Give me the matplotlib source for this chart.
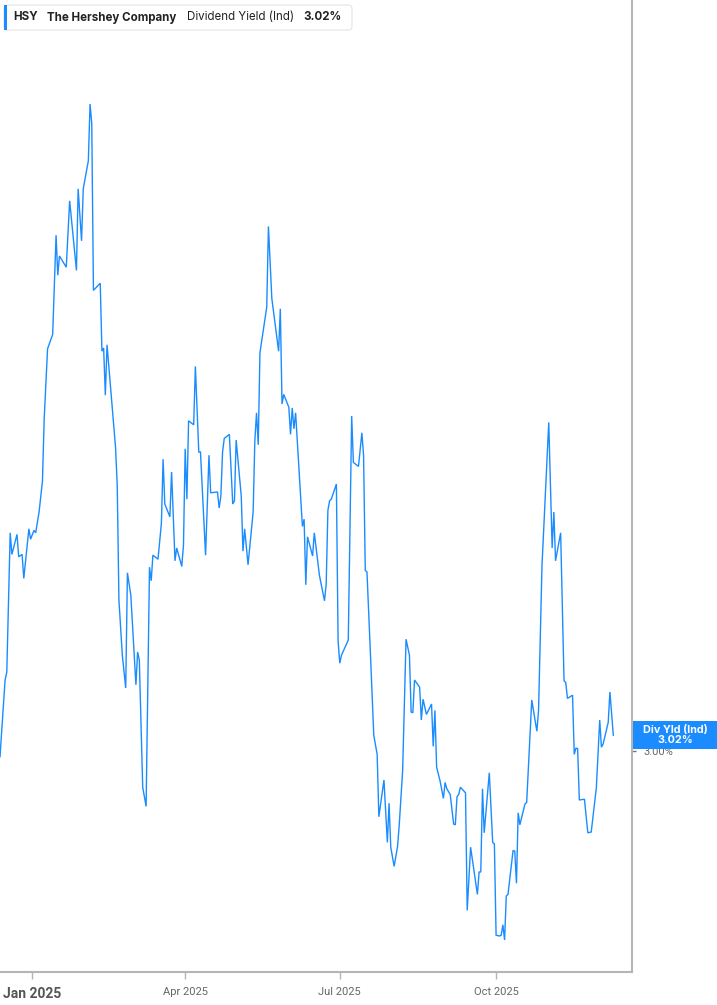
"""
HSY dividend yield (indicated), Dec 2024 - Dec 2025
"""

import numpy as np
import matplotlib
matplotlib.use("Agg")
import matplotlib.pyplot as plt
from matplotlib.patches import Rectangle, FancyBboxPatch
from matplotlib.transforms import blended_transform_factory

W, H = 717, 1005
BLUE = "#1a8cff"
NARROW = ["Liberation Sans Narrow", "Roboto", "DejaVu Sans"]
UI = ["Inter", "DejaVu Sans"]

ticker = "HSY"
company = "The Hershey Company"
metric = "Dividend Yield (Ind)"
tag = "Div Yld (Ind)"

dates = [
    "2024-12-13", "2024-12-15", "2024-12-16", "2024-12-17", "2024-12-19", "2024-12-20",
    "2024-12-23", "2024-12-24", "2024-12-26", "2024-12-27", "2024-12-30", "2024-12-31",
    "2025-01-02", "2025-01-03", "2025-01-05", "2025-01-07", "2025-01-08", "2025-01-10",
    "2025-01-13", "2025-01-15", "2025-01-16", "2025-01-17", "2025-01-21", "2025-01-23",
    "2025-01-27", "2025-01-28", "2025-01-30", "2025-01-31",
    "2025-02-03", "2025-02-04", "2025-02-05", "2025-02-06", "2025-02-10", "2025-02-11",
    "2025-02-12", "2025-02-13", "2025-02-14", "2025-02-19", "2025-02-20", "2025-02-21",
    "2025-02-23", "2025-02-25", "2025-02-26", "2025-02-28",
    "2025-03-03", "2025-03-04", "2025-03-05", "2025-03-07", "2025-03-09", "2025-03-11",
    "2025-03-12", "2025-03-13", "2025-03-16", "2025-03-18", "2025-03-19", "2025-03-20",
    "2025-03-23", "2025-03-24", "2025-03-26", "2025-03-27", "2025-03-30", "2025-03-31",
    "2025-04-01", "2025-04-02", "2025-04-03", "2025-04-06", "2025-04-07", "2025-04-09",
    "2025-04-10", "2025-04-13", "2025-04-15", "2025-04-16", "2025-04-20", "2025-04-21",
    "2025-04-22", "2025-04-23", "2025-04-24", "2025-04-27", "2025-04-29", "2025-04-30",
    "2025-05-01", "2025-05-04", "2025-05-05", "2025-05-06", "2025-05-08", "2025-05-11",
    "2025-05-12", "2025-05-13", "2025-05-14", "2025-05-15", "2025-05-19", "2025-05-20",
    "2025-05-22", "2025-05-26", "2025-05-27", "2025-05-28", "2025-05-29",
    "2025-06-01", "2025-06-02", "2025-06-03", "2025-06-04", "2025-06-05", "2025-06-09",
    "2025-06-10", "2025-06-11", "2025-06-12", "2025-06-15", "2025-06-16", "2025-06-19",
    "2025-06-22", "2025-06-23", "2025-06-24", "2025-06-25", "2025-06-26", "2025-06-29",
    "2025-06-30",
    "2025-07-01", "2025-07-02", "2025-07-06", "2025-07-08", "2025-07-09", "2025-07-12",
    "2025-07-14", "2025-07-15", "2025-07-16", "2025-07-17", "2025-07-19", "2025-07-21",
    "2025-07-22", "2025-07-23", "2025-07-24", "2025-07-27", "2025-07-29", "2025-07-30",
    "2025-07-31",
    "2025-08-02", "2025-08-04", "2025-08-05", "2025-08-07", "2025-08-09", "2025-08-11",
    "2025-08-12", "2025-08-13", "2025-08-14", "2025-08-17", "2025-08-18", "2025-08-19",
    "2025-08-21", "2025-08-24", "2025-08-25", "2025-08-26", "2025-08-27", "2025-08-29",
    "2025-08-31",
    "2025-09-01", "2025-09-02", "2025-09-04", "2025-09-06", "2025-09-07", "2025-09-08",
    "2025-09-09", "2025-09-10", "2025-09-13", "2025-09-14", "2025-09-16", "2025-09-20",
    "2025-09-21", "2025-09-22", "2025-09-23", "2025-09-24", "2025-09-27", "2025-09-29",
    "2025-09-30",
    "2025-10-01", "2025-10-03", "2025-10-04", "2025-10-05", "2025-10-06", "2025-10-07",
    "2025-10-08", "2025-10-11", "2025-10-12", "2025-10-13", "2025-10-14", "2025-10-15",
    "2025-10-18", "2025-10-19", "2025-10-22", "2025-10-25", "2025-10-26", "2025-10-28",
    "2025-11-01", "2025-11-03", "2025-11-04", "2025-11-05", "2025-11-08", "2025-11-10",
    "2025-11-11", "2025-11-12", "2025-11-15", "2025-11-16", "2025-11-17", "2025-11-18",
    "2025-11-19", "2025-11-22", "2025-11-24", "2025-11-26", "2025-11-29",
    "2025-12-01", "2025-12-02", "2025-12-03", "2025-12-06", "2025-12-07", "2025-12-09",
]

# dividend yield, percent
yields = [
    2.993, 3.058, 3.089, 3.099, 3.273, 3.246, 3.271, 3.243, 3.246, 3.216, 3.278, 3.265,
    3.276, 3.273, 3.299, 3.338, 3.415, 3.503, 3.521, 3.645, 3.595, 3.619, 3.605, 3.688,
    3.601, 3.703, 3.638, 3.703,
    3.738, 3.809, 3.785, 3.576, 3.585, 3.500, 3.504, 3.445, 3.508, 3.380, 3.333, 3.189,
    3.120, 3.079, 3.223, 3.195,
    3.083, 3.124, 3.114, 2.955, 2.931, 3.230, 3.213, 3.245, 3.240, 3.285, 3.365, 3.309,
    3.293, 3.349, 3.238, 3.254, 3.231, 3.258,
    3.378, 3.315, 3.413, 3.408, 3.481, 3.374, 3.374, 3.245, 3.370, 3.323, 3.324, 3.304,
    3.319, 3.374, 3.391, 3.396, 3.309, 3.313,
    3.389, 3.319, 3.250, 3.278, 3.233, 3.299, 3.388, 3.423, 3.383, 3.498, 3.555, 3.656,
    3.566, 3.500, 3.553, 3.434, 3.446,
    3.430, 3.396, 3.429, 3.403, 3.423, 3.281, 3.290, 3.208, 3.268, 3.244, 3.273, 3.220,
    3.188, 3.209, 3.301, 3.313, 3.315, 3.334, 3.138,
    3.110, 3.120, 3.139, 3.419, 3.361, 3.356, 3.398, 3.370, 3.226, 3.224, 3.124, 3.020,
    3.008, 2.996, 2.918, 2.964, 2.886, 2.935, 2.880,
    2.856, 2.881, 2.908, 2.976, 3.140, 3.120, 3.049, 3.048, 3.089, 3.080, 3.039, 3.065,
    3.046, 3.059, 3.006, 3.051, 2.980, 2.963, 2.941,
    2.961, 2.953, 2.946, 2.909, 2.908, 2.943, 2.946, 2.955, 2.948, 2.801, 2.880, 2.821,
    2.849, 2.849, 2.953, 2.898, 2.973, 2.886, 2.884,
    2.770, 2.769, 2.770, 2.783, 2.764, 2.819, 2.821, 2.876, 2.875, 2.835, 2.923, 2.908,
    2.934, 2.936, 3.064, 3.025, 3.051, 3.231,
    3.411, 3.254, 3.299, 3.238, 3.273, 3.088, 3.086, 3.066, 3.070, 2.996, 3.004, 3.003,
    2.939, 2.940, 2.898, 2.899, 2.954,
    3.039, 3.005, 3.009, 3.036, 3.074, 3.020,
]

x_ticks = ["2025-01-01", "2025-04-01", "2025-07-01", "2025-10-01"]
x_labels = ["Jan 2025", "Apr 2025", "Jul 2025", "Oct 2025"]
y_ticks = [3.00]
x_range = ["2024-12-13", "2025-12-20"]
y_range = [2.724, 3.939]


def px(x, y):
    """pixel (from top-left) -> figure fraction"""
    return x / W, 1 - y / H


def plotChart():
    fig = plt.figure(figsize=(W / 100, H / 100), dpi=100)
    ax = fig.add_axes([0, 33 / H, 632 / W, 972 / H])

    x = np.array(dates, dtype="datetime64[D]")
    ax.plot(x, yields, color=BLUE, lw=1.0, solid_joinstyle="miter")
    ax.set_xlim(np.datetime64(x_range[0]), np.datetime64(x_range[1]))
    ax.set_ylim(*y_range)

    for s in ("left", "top"):
        ax.spines[s].set_visible(False)
    for s in ("right", "bottom"):
        ax.spines[s].set_color("#b5b5b5")
        ax.spines[s].set_linewidth(1.5)

    ax.yaxis.tick_right()
    ax.set_yticks(y_ticks, ["%.2f%%" % v for v in y_ticks])
    ax.tick_params(axis="y", length=3, width=1, color="#777777",
                   labelcolor="#666666", labelsize=8, pad=5)
    ax.set_xticks(np.array(x_ticks, dtype="datetime64[D]"), x_labels)
    ax.tick_params(axis="x", length=5, width=1, color="#b5b5b5",
                   labelcolor="#666666", labelsize=8, pad=6)
    for lbl in ax.get_xticklabels() + ax.get_yticklabels():
        lbl.set_fontfamily(NARROW)
    first = ax.get_xticklabels()[0]
    first.set_fontsize(10)
    first.set_fontweight("bold")
    first.set_color("#555555")

    # value tag on the right axis
    tr = blended_transform_factory(fig.transFigure, ax.transData)
    last = yields[-1]
    box_h = 28 / 800
    fig.add_artist(Rectangle((633 / W, last - box_h / 2), 84 / W, box_h,
                             transform=tr, facecolor=BLUE, edgecolor="none", zorder=5))
    fig.text(675 / W, last, "%s\n%.2f%%" % (tag, last), transform=tr,
             ha="center", va="center", color="white", fontsize=7.8,
             fontweight="bold", family=UI, linespacing=1.0, zorder=6)

    # header legend
    x0, y0 = px(4, 30)
    fig.add_artist(FancyBboxPatch((x0, y0), 348 / W, 25 / H,
                                  boxstyle="round,pad=0,rounding_size=0.004",
                                  transform=fig.transFigure, facecolor="white",
                                  edgecolor="#e4e4e4", lw=0.8, zorder=5))
    fig.add_artist(Rectangle((x0, y0), 3 / W, 25 / H, transform=fig.transFigure,
                             facecolor=BLUE, edgecolor="none", zorder=6))
    yc = 1 - 17.5 / H
    fig.text(13 / W, yc, ticker, fontsize=8.3, fontweight="bold", color="#222222",
             family=UI, va="center", zorder=7)
    fig.text(47 / W, yc, company, fontsize=8.3, fontweight="bold", color="#222222",
             family=UI, va="center", zorder=7)
    fig.text(187 / W, yc, metric, fontsize=8.3, color="#222222",
             family=UI, va="center", zorder=7)
    fig.text(303 / W, yc, "%.2f%%" % last, fontsize=8.3, fontweight="bold",
             color="#222222", family=UI, va="center", zorder=7)

    fig.savefig("out.png", dpi=100)


if __name__ == '__main__':
    plotChart()
